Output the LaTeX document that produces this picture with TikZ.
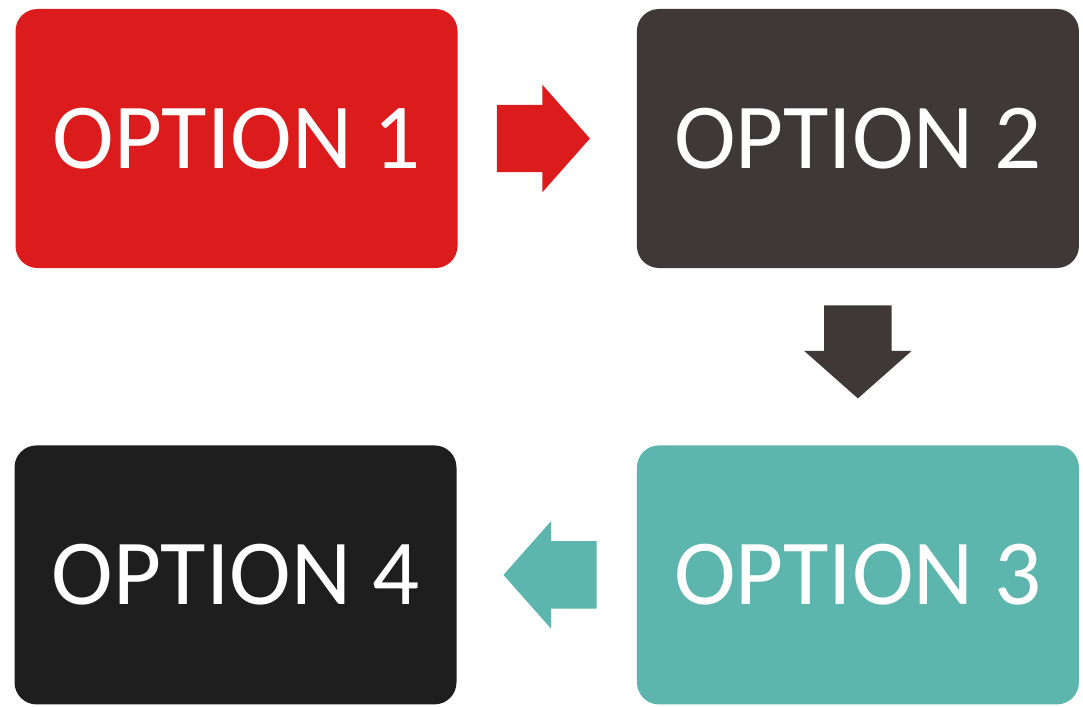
\documentclass[tikz,border=0pt]{standalone}
\usepackage{fontspec}
\setmainfont{Carlito}
\usepackage{tikz}
\usetikzlibrary{positioning, shapes.arrows}
\usepackage{xcolor}
\definecolor{optred}{HTML}{DC1C1C}
\definecolor{optgray}{HTML}{3F3839}
\definecolor{optteal}{HTML}{5DB6AD}
\definecolor{optblack}{HTML}{1F1E1E}

\begin{document}
\begin{tikzpicture}[
    x=1pt, y=1pt,
    box/.style={rounded corners=22pt, minimum width=442pt, minimum height=259pt, inner sep=0pt, text=white, font=\fontsize{93}{93}\selectfont},
    blk/.style={single arrow, draw=none, inner xsep=0pt, inner ysep=33.5pt, minimum height=93pt, single arrow head extend=20pt, single arrow tip angle=97}
]
\useasboundingbox (0,0) rectangle (1083,-706);
\node (o1) [box, fill=optred] at (236.5,-138.5) {OPTION 1};
\node (o2) [box, fill=optgray, right=179pt of o1] {OPTION 2};
\node (o3) [box, fill=optteal, below=177pt of o2] {OPTION 3};
\node (o4) [box, fill=optblack, left=180pt of o3] {OPTION 4};
\node (a12) [blk, fill=optred, right=39pt of o1] {};
\node (a23) [blk, fill=optgray, shape border rotate=270, inner xsep=33.5pt, inner ysep=0pt, below=37pt of o2] {};
\node (a34) [blk, fill=optteal, shape border rotate=180, left=40pt of o3] {};
\end{tikzpicture}
\end{document}
